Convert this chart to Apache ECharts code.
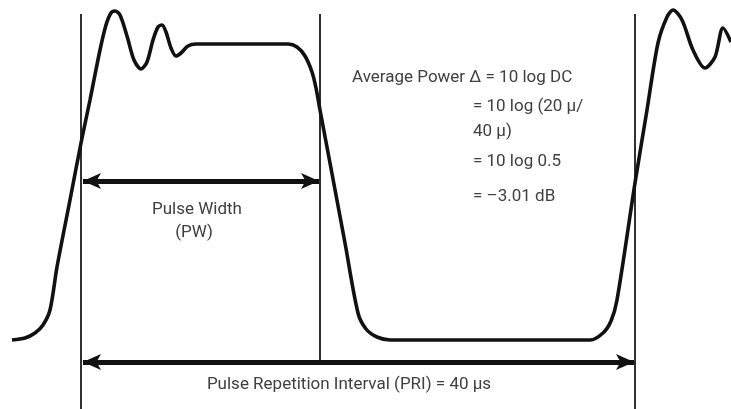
<html>
  <head>
    <meta charset="utf-8" />
    <script src="https://cdn.jsdelivr.net/npm/echarts@6.0.0/dist/echarts.min.js"></script>
    <style>
      body {
        height: 100vh;
        width: 100vw;
        margin: 0;
        background: #fff;
      }

      #main {
        width: 731px;
        height: 409px;
      }
    </style>
  </head>
  <body>
    <div id="main"></div>
    <script>
      // Pulse trace (x right, y down, in px of the 731x409 frame)
      const pulseX = [
        12, 25, 35, 43, 50, 57, 70, 81, 90, 100, 106, 111, 115, 120, 127, 134, 141, 147, 153, 158,
        162, 166, 171, 176, 181, 188, 196, 240, 288, 297, 305, 312, 316, 320, 330, 345, 358, 366,
        377, 390, 480, 590, 603, 611, 617, 635, 647, 658, 667, 673, 682, 693, 705, 715, 723, 731
      ];
      const pulseY = [
        340, 338, 333, 325, 310, 267, 200, 143, 100, 50, 25, 13, 11, 15, 36, 60, 69, 62, 40, 27,
        25, 32, 48, 56, 53, 46, 44, 44, 44, 47, 56, 72, 88, 110, 163, 243, 313, 329,
        337, 340, 340, 340, 333, 321, 300, 183, 110, 43, 17, 10, 20, 50, 68, 57, 28, 42
      ];

      // Vertical markers: x, top, bottom
      const markerX = [81, 320, 635];
      const markerTop = [14, 14, 14];
      const markerBottom = [409, 363, 409];

      // Double arrows: [from, to] and height
      const pwArrow = [83, 319];
      const pwArrowY = 181;
      const priArrow = [83, 634];
      const priArrowY = 362;

      const formulaLines = [
        'Average Power \u0394 = 10 log DC',
        '= 10 log (20 \u03bc/',
        '40 \u03bc)',
        '= 10 log 0.5',
        '= \u20133.01 dB'
      ];
      const pwLabel = ['Pulse Width', '(PW)'];
      const priLabel = 'Pulse Repetition Interval (PRI) = 40 \u00b5s';

      const pulse = pulseX.map((x, i) => [x, pulseY[i]]);

      const markerSeries = markerX.map((x, i) => ({
        type: 'line',
        data: [[x, markerTop[i]], [x, markerBottom[i]]],
        symbol: 'none',
        lineStyle: { color: '#1a1a1a', width: 1.8 },
        silent: true,
        z: 1
      }));

      const arrowLine = (range, y) => [
        { coord: [range[0], y] },
        { coord: [range[1], y] }
      ];

      const textStyle = {
        fontFamily: 'Roboto, sans-serif',
        fontSize: 17,
        fill: '#404040'
      };
      const txt = (s, x, y, align) => ({
        type: 'text',
        x: x,
        y: y,
        style: Object.assign({}, textStyle, {
          text: s,
          align: align || 'left',
          verticalAlign: 'middle'
        }),
        silent: true
      });

      const chart = echarts.init(document.getElementById('main'));

      chart.setOption({
        animation: false,
        grid: { left: 0, right: 0, top: 0, bottom: 0 },
        xAxis: { type: 'value', min: 0, max: 731, show: false },
        yAxis: { type: 'value', min: 0, max: 409, inverse: true, show: false },
        series: [
          ...markerSeries,
          {
            type: 'line',
            data: pulse,
            smooth: 0.3,
            symbol: 'none',
            lineStyle: { color: '#111', width: 3.6 },
            silent: true,
            z: 3
          },
          {
            type: 'line',
            data: [],
            silent: true,
            markLine: {
              silent: true,
              symbol: ['arrow', 'arrow'],
              symbolSize: [12, 18],
              label: { show: false },
              lineStyle: { color: '#111', width: 5, type: 'solid' },
              emphasis: { disabled: true },
              data: [arrowLine(pwArrow, pwArrowY), arrowLine(priArrow, priArrowY)]
            },
            z: 2
          }
        ],
        graphic: [
          txt(formulaLines[0], 352, 78),
          txt(formulaLines[1], 473, 107),
          txt(formulaLines[2], 473, 132),
          txt(formulaLines[3], 473, 162),
          txt(formulaLines[4], 473, 197),
          txt(pwLabel[0], 197, 210, 'center'),
          txt(pwLabel[1], 194, 233, 'center'),
          txt(priLabel, 349, 385, 'center')
        ]
      });
    </script>
  </body>
</html>
